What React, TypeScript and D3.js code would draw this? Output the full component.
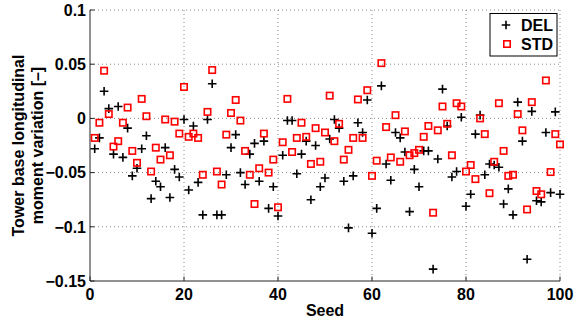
import React from "react";
import * as d3 from "d3";

const seeds = d3.range(1, 101);

const delValues = [
  -0.028, -0.018, 0.025, 0.009, -0.033, 0.011, -0.036, -0.009, -0.053, -0.046,
  -0.028, -0.016, -0.074, -0.058, -0.063, -0.027, -0.073, -0.047, -0.054, -0.001,
  -0.066, -0.007, -0.059, -0.089, -0.001, 0.032, -0.089, -0.089, -0.052, -0.027,
  -0.015, -0.05, -0.061, -0.033, -0.023, -0.058, -0.021, -0.083, -0.063, -0.09,
  -0.034, -0.002, -0.002, -0.051, -0.033, -0.021, -0.075, -0.025, -0.063, -0.055,
  -0.019, -0.001, -0.009, -0.058, -0.101, -0.053, -0.004, -0.013, 0.017, -0.106,
  -0.083, 0.03, -0.042, -0.057, -0.013, -0.018, -0.031, -0.086, -0.047, -0.063,
  -0.03, -0.03, -0.139, -0.0375, 0.027, -0.007, -0.054, -0.049, 0.001, -0.081,
  -0.07, -0.0145, 0.003, -0.052, -0.042, -0.043, -0.045, -0.079, -0.065, -0.089,
  0.015, -0.021, -0.13, 0.0065, -0.076, -0.077, -0.013, -0.0685, 0.006, -0.07,
];

const stdValues = [
  -0.018, -0.004, 0.044, 0.004, -0.026, -0.021, -0.004, 0.01, -0.03, -0.041,
  0.018, 0.002, -0.049, -0.027, -0.038, -0.001, -0.034, -0.003, -0.014, 0.029,
  -0.017, -0.014, -0.018, -0.052, 0.006, 0.0446, -0.049, -0.061, -0.015, 0.005,
  0.017, -0.002, -0.03, -0.052, -0.079, -0.046, -0.014, -0.05, -0.038, -0.082,
  -0.022, 0.018, -0.031, -0.018, -0.004, -0.017, -0.042, -0.009, -0.04, -0.013,
  0.021, -0.021, -0.005, -0.038, -0.029, -0.018, 0.0175, -0.018, 0.026, -0.053,
  -0.039, 0.051, -0.008, -0.036, 0.003, -0.04, -0.012, -0.034, -0.032, -0.029,
  -0.017, -0.007, -0.087, -0.011, 0.011, -0.005, -0.034, 0.014, 0.011, -0.049,
  -0.043, -0.056, 0.0, -0.0145, -0.069, -0.04, 0.014, -0.03, -0.053, -0.052,
  0.004, -0.011, -0.084, 0.015, -0.067, -0.07, 0.035, -0.0495, -0.0145, -0.024,
];

const xTicks = [0, 20, 40, 60, 80, 100];
const yTicks = [0.1, 0.05, 0, -0.05, -0.1, -0.15];
const yTickLabels = ["0.1", "0.05", "0", "\u22120.05", "\u22120.1", "\u22120.15"];

const width = 576;
const height = 322;
const margin = { top: 10, right: 16, bottom: 41, left: 90 };
const font = "'Liberation Sans', Arial, sans-serif";

function Plus({ x, y, s = 4.3 }) {
  return (
    <path
      d={`M${x - s},${y}H${x + s}M${x},${y - s}V${y + s}`}
      stroke="#000"
      strokeWidth={1.6}
    />
  );
}

function Square({ x, y, s = 3.2 }) {
  return (
    <rect
      x={x - s}
      y={y - s}
      width={2 * s}
      height={2 * s}
      fill="none"
      stroke="#f00"
      strokeWidth={1.6}
    />
  );
}

export default function App() {
  const xScale = d3
    .scaleLinear()
    .domain([0, 100])
    .range([margin.left, width - margin.right]);
  const yScale = d3
    .scaleLinear()
    .domain([-0.15, 0.1])
    .range([height - margin.bottom, margin.top]);

  const x0 = xScale(0);
  const x1 = xScale(100);
  const yb = yScale(-0.15);
  const yt = yScale(0.1);

  return (
    <svg
      width={width}
      height={height}
      style={{ position: "absolute", left: 0, top: 0, background: "#fff" }}
      fontFamily={font}
      fontWeight="bold"
    >
      {/* grid */}
      <g stroke="#888" strokeWidth={1} strokeDasharray="1,3">
        {xTicks.slice(1).map((t) => (
          <line key={"gx" + t} x1={xScale(t)} x2={xScale(t)} y1={yt} y2={yb} />
        ))}
        {yTicks.slice(0, -1).map((t) => (
          <line key={"gy" + t} x1={x0} x2={x1} y1={yScale(t)} y2={yScale(t)} />
        ))}
      </g>

      {/* axes */}
      <g stroke="#222" strokeWidth={1}>
        <line x1={x0} x2={x0} y1={yt} y2={yb} />
        <line x1={x0} x2={x1} y1={yb} y2={yb} />
        {xTicks.map((t) => (
          <line key={"tx" + t} x1={xScale(t)} x2={xScale(t)} y1={yb} y2={yb - 4.5} />
        ))}
        {yTicks.map((t) => (
          <line key={"ty" + t} x1={x0} x2={x0 + 4.5} y1={yScale(t)} y2={yScale(t)} />
        ))}
      </g>

      {/* points */}
      <g>
        {seeds.map((s, i) => (
          <Plus key={"d" + s} x={xScale(s)} y={yScale(delValues[i])} />
        ))}
        {seeds.map((s, i) => (
          <Square key={"s" + s} x={xScale(s)} y={yScale(stdValues[i])} />
        ))}
      </g>

      {/* tick labels */}
      <g fontSize={16} fill="#000">
        {xTicks.map((t) => (
          <text key={"lx" + t} x={xScale(t)} y={300} textAnchor="middle">
            {t}
          </text>
        ))}
        {yTicks.map((t, i) => (
          <text key={"ly" + t} x={86} y={yScale(t) + 5.7} textAnchor="end">
            {yTickLabels[i]}
          </text>
        ))}
        <text x={(x0 + x1) / 2} y={315.5} textAnchor="middle">
          Seed
        </text>
        <g transform={`translate(23.5,${(yt + yb) / 2}) rotate(-90)`}>
          <text x={0} y={0} textAnchor="middle">
            Tower base longitudinal
          </text>
          <text x={0} y={19} textAnchor="middle">
            moment variation [–]
          </text>
        </g>
      </g>

      {/* legend */}
      <g>
        <rect x={490} y={13.5} width={67} height={42.5} fill="#fff" stroke="#000" strokeWidth={1} />
        <Plus x={506} y={25} />
        <Square x={507} y={44} />
        <text x={521} y={30.8} fontSize={16}>
          DEL
        </text>
        <text x={521} y={49.8} fontSize={16}>
          STD
        </text>
      </g>
    </svg>
  );
}
